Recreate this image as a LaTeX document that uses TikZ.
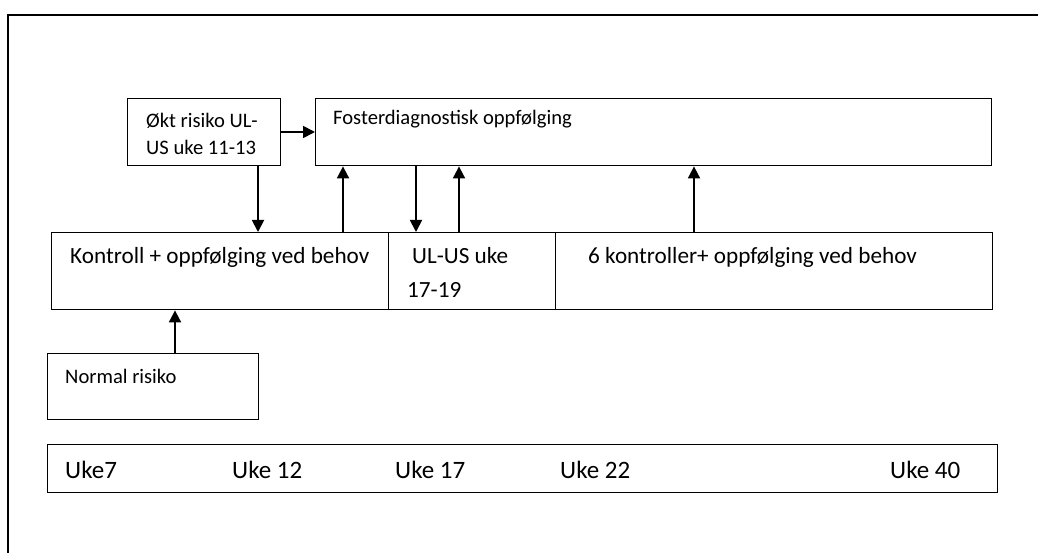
\documentclass[tikz,border=0pt]{standalone}
\usepackage{fontspec}
\setmainfont{Carlito}
\usetikzlibrary{arrows.meta,calc}
\begin{document}
\begin{tikzpicture}[x=1pt,y=-1pt,
  box/.style={draw,line width=1.4pt,rectangle,inner sep=0pt,anchor=north west},
  big/.style={anchor=base west,inner sep=0pt,font=\fontsize{23.2}{28}\selectfont},
  ukefont/.style={anchor=base west,inner sep=0pt,font=\fontsize{25}{30}\selectfont},
  small/.style={anchor=base west,inner sep=0pt,font=\fontsize{20.6}{25}\selectfont},
  arr/.style={line width=1.8pt,-{Triangle[length=12pt,width=12pt]}}]
\useasboundingbox (0,0) rectangle (1038,553);
% outer frame (open right/bottom)
\draw[line width=1.4pt] (8,553) -- (8,15) -- (1038,15);
% boxes
\node[box,minimum width=153pt,minimum height=67pt] (okt) at (127,98) {};
\node[box,minimum width=676pt,minimum height=67pt] (foster) at (315,98) {};
\node[box,minimum width=337pt,minimum height=77pt] (kontroll) at (51,232) {};
\node[box,minimum width=167pt,minimum height=77pt] (ulus) at (388,232) {};
\node[box,minimum width=437pt,minimum height=77pt] (seks) at (555,232) {};
\node[box,minimum width=211pt,minimum height=66pt] (normal) at (47,353) {};
\node[box,minimum width=950pt,minimum height=48pt] (uke) at (47,444) {};
% texts
\node[small] (t1) at (146,128) {Økt risiko UL-};
\node[small] (t2) at (146,155) {US uke 11-13};
\node[small] (t3) at (333,125) {Fosterdiagnostisk oppfølging};
\node[big] (t4) at (70,263) {Kontroll + oppfølging ved behov};
\node[big] (t5) at (412,263) {UL-US uke};
\node[big] (t6) at (407,297) {17-19};
\node[big] (t7) at (588,263) {6 kontroller+ oppfølging ved behov};
\node[small] (t8) at (65,383) {Normal risiko};
\node[ukefont] (u1) at (65,478) {Uke7};
\node[ukefont] (u2) at (232,478) {Uke 12};
\node[ukefont] (u3) at (395,478) {Uke 17};
\node[ukefont] (u4) at (560,478) {Uke 22};
\node[ukefont] (u5) at (890,478) {Uke 40};
% connector x positions
\coordinate (xa) at (258,0);
\coordinate (xb) at (343,0);
\coordinate (xc) at (416,0);
\coordinate (xd) at (459,0);
\coordinate (xe) at (694,0);
\coordinate (xf) at (175,0);
\coordinate (ya) at (0,132);
% connectors
\draw[arr] (okt.east |- ya) -- (foster.west |- ya);
\draw[arr] (okt.south -| xa) -- (kontroll.north -| xa);
\draw[arr] (kontroll.north -| xb) -- (foster.south -| xb);
\draw[arr] (foster.south -| xc) -- (ulus.north -| xc);
\draw[arr] (ulus.north -| xd) -- (foster.south -| xd);
\draw[arr] (seks.north -| xe) -- (foster.south -| xe);
\draw[arr] (normal.north -| xf) -- (kontroll.south -| xf);
\end{tikzpicture}
\end{document}
